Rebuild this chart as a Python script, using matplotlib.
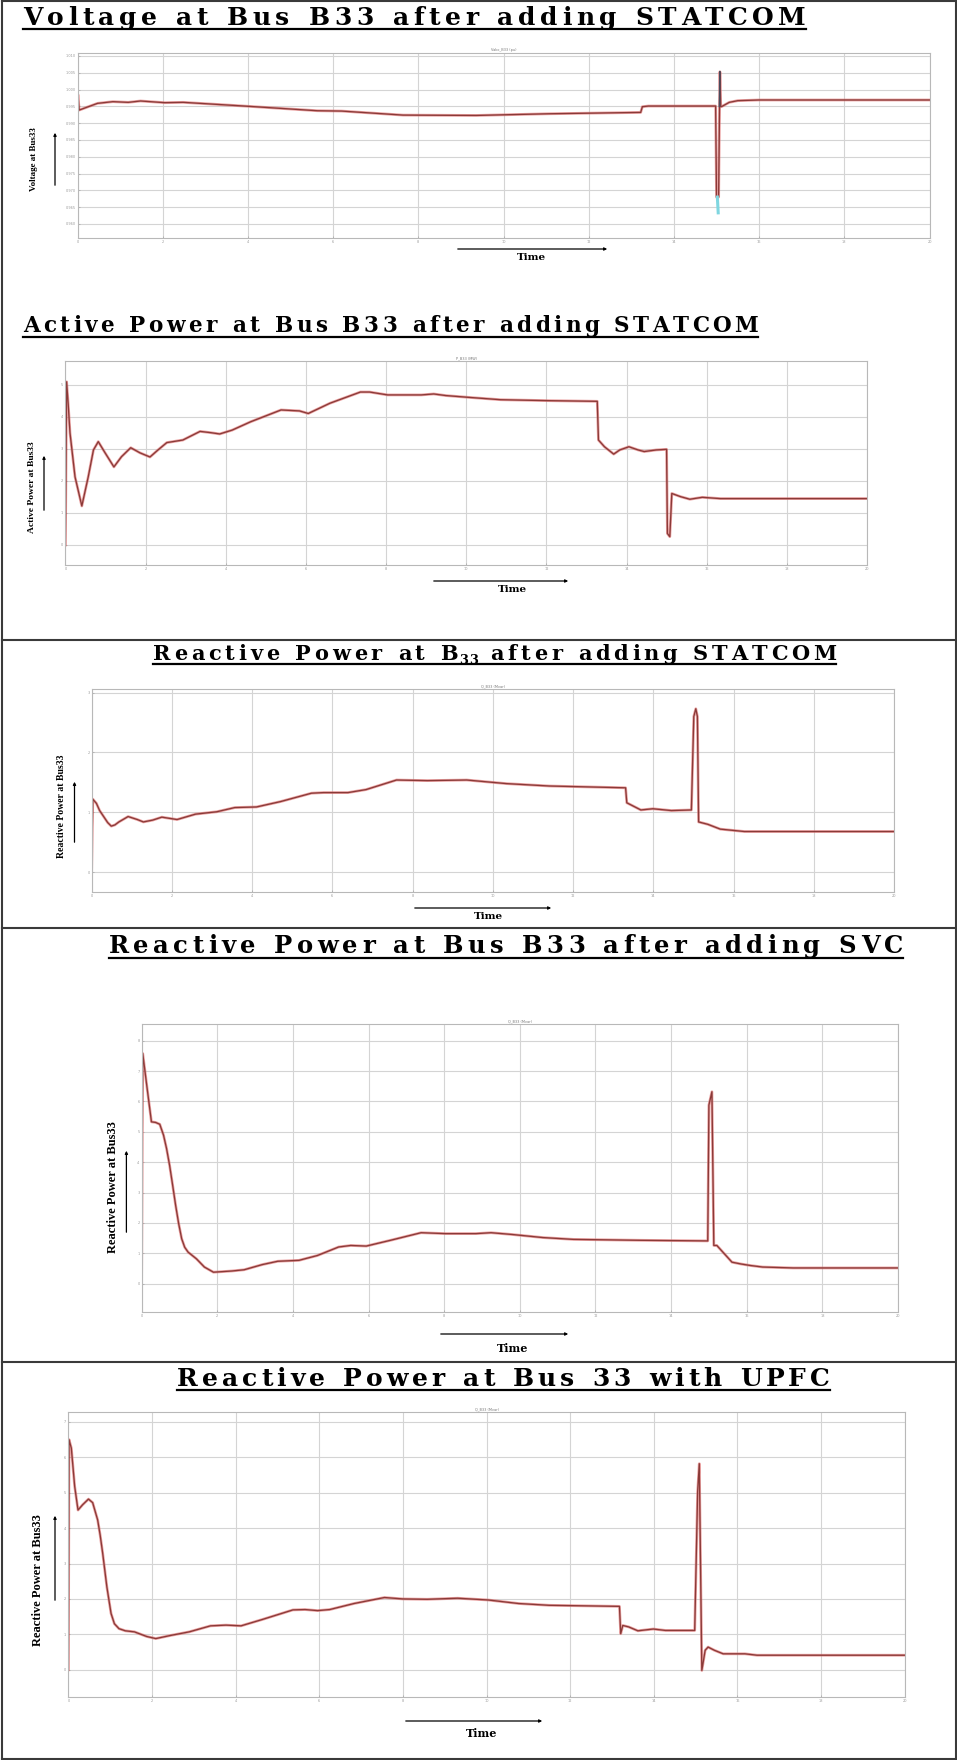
import matplotlib.pyplot as plt
from matplotlib.lines import Line2D
from matplotlib.patches import FancyArrowPatch

SERIF = ['Liberation Serif', 'DejaVu Serif']
WIDE = ['DejaVu Serif']
W, H = 957, 1760

# time axis (s), same for all panels
x_ticks = [0, 2, 4, 6, 8, 10, 12, 14, 16, 18, 20]

# Voltage at B33 (pu)
volt_t = [0, 0.01, 0.04, 0.47, 0.83, 1.19, 1.48, 2.05, 2.48, 3.91, 5.63, 6.2, 7.64, 9.36,
          11.07, 13.22, 13.26, 13.4, 14.98, 15.0, 15.05, 15.08, 15.1, 15.13, 15.3, 15.5, 16.0, 20]
volt_v = [0.9939, 0.9985, 0.9939, 0.9959, 0.9964, 0.9962, 0.9966, 0.9961, 0.9962, 0.9951, 0.9937,
          0.9936, 0.9924, 0.9923, 0.9928, 0.9932, 0.9949, 0.9951, 0.9951, 0.9680, 0.9680, 1.0053,
          0.9949, 0.9950, 0.9962, 0.9967, 0.9969, 0.9969]
volt_cyan_t = [15.02, 15.04]
volt_cyan_v = [0.9680, 0.9633]
volt_peak_t = [15.07, 15.08]
volt_peak_v = [0.9950, 1.0053]
volt_ticks = [0.96, 0.965, 0.97, 0.975, 0.98, 0.985, 0.99, 0.995, 1.0, 1.005, 1.01]

# Active power at B33
p_t = [0, 0.03, 0.07, 0.115, 0.24, 0.41, 0.57, 0.70, 0.82, 0.99, 1.21, 1.40, 1.63, 1.86, 2.11,
       2.31, 2.53, 2.93, 3.36, 3.63, 3.85, 4.16, 4.62, 5.38, 5.84, 6.06, 6.6, 7.36, 7.59, 8.04,
       8.88, 9.19, 9.49, 10.1, 10.86, 12.08, 13.27, 13.3, 13.45, 13.68, 13.83, 14.06, 14.29,
       14.44, 14.74, 15.0, 15.02, 15.08, 15.13, 15.35, 15.58, 15.89, 16.34, 20]
p_v = [0, 5.1, 4.4, 3.5, 2.13, 1.22, 2.13, 2.97, 3.23, 2.88, 2.44, 2.76, 3.04, 2.88, 2.75,
       2.97, 3.2, 3.28, 3.55, 3.51, 3.47, 3.59, 3.85, 4.22, 4.19, 4.11, 4.43, 4.78, 4.78, 4.69,
       4.69, 4.72, 4.67, 4.61, 4.54, 4.51, 4.49, 3.28, 3.07, 2.84, 2.97, 3.07, 2.97,
       2.92, 2.97, 2.99, 0.36, 0.26, 1.61, 1.51, 1.43, 1.49, 1.45, 1.45]
p_ticks = [0, 1, 2, 3, 4, 5]

# Reactive power at B33, STATCOM
qs_t = [0, 0.03, 0.12, 0.20, 0.30, 0.40, 0.49, 0.58, 0.68, 0.91, 1.14, 1.29, 1.52, 1.75, 2.13,
        2.59, 3.12, 3.57, 4.11, 4.71, 5.48, 5.78, 6.39, 6.84, 7.60, 8.37, 9.35, 10.34, 11.41,
        13.31, 13.34, 13.69, 13.99, 14.45, 14.95, 15.01, 15.06, 15.10, 15.13, 15.36, 15.67,
        16.27, 20]
qs_v = [0, 1.22, 1.15, 1.03, 0.93, 0.83, 0.77, 0.79, 0.84, 0.93, 0.88, 0.84, 0.87, 0.92, 0.88,
        0.97, 1.01, 1.08, 1.09, 1.18, 1.32, 1.33, 1.33, 1.38, 1.54, 1.53, 1.54, 1.48, 1.44,
        1.41, 1.16, 1.04, 1.06, 1.03, 1.04, 2.6, 2.73, 2.6, 0.84, 0.80, 0.72,
        0.68, 0.68]
qs_ticks = [0, 1, 2, 3]

# Reactive power at B33, SVC
qv_t = [0, 0.03, 0.13, 0.26, 0.37, 0.48, 0.58, 0.66, 0.74, 0.82, 0.90, 0.98, 1.06, 1.14, 1.23,
        1.45, 1.66, 1.90, 2.39, 2.71, 3.19, 3.6, 4.16, 4.65, 5.21, 5.53, 5.94, 6.58, 7.39, 8.03,
        8.84, 9.24, 9.81, 10.61, 11.42, 13.19, 14.97, 15.0, 15.08, 15.13, 15.21, 15.37, 15.61,
        15.85, 16.1, 16.42, 17.23, 20]
qv_v = [0.11, 7.58, 6.59, 5.33, 5.31, 5.25, 4.89, 4.45, 3.90, 3.25, 2.58, 1.98, 1.48, 1.20, 1.04,
        0.82, 0.55, 0.38, 0.42, 0.46, 0.63, 0.74, 0.77, 0.93, 1.21, 1.26, 1.24, 1.43, 1.68, 1.65,
        1.65, 1.68, 1.62, 1.52, 1.46, 1.43, 1.41, 5.88, 6.32, 1.26, 1.26, 1.04, 0.71,
        0.65, 0.60, 0.55, 0.52, 0.52]
qv_ticks = [0, 1, 2, 3, 4, 5, 6, 7, 8]

# Reactive power at B33, UPFC
qu_t = [0, 0.015, 0.07, 0.15, 0.23, 0.34, 0.48, 0.58, 0.70, 0.76, 0.82, 0.92, 1.02, 1.10, 1.21,
        1.36, 1.58, 1.87, 2.09, 2.45, 2.89, 3.40, 3.77, 4.13, 4.64, 5.37, 5.66, 5.96, 6.25, 6.83,
        7.56, 8.0, 8.58, 9.31, 10.04, 10.77, 11.5, 13.18, 13.21, 13.26, 13.4, 13.62, 13.99,
        14.28, 14.98, 15.05, 15.09, 15.15, 15.23, 15.30, 15.45, 15.66, 16.18, 16.47, 20]
qu_v = [0, 6.5, 6.26, 5.18, 4.51, 4.66, 4.82, 4.72, 4.23, 3.80, 3.29, 2.34, 1.59, 1.30, 1.16,
        1.10, 1.07, 0.94, 0.88, 0.97, 1.07, 1.24, 1.26, 1.24, 1.42, 1.69, 1.70, 1.67, 1.70, 1.87,
        2.04, 2.0, 1.99, 2.02, 1.97, 1.87, 1.82, 1.79, 1.02, 1.25, 1.21, 1.10, 1.15,
        1.11, 1.11, 5.03, 5.82, -0.02, 0.55, 0.64, 0.55, 0.45, 0.45, 0.41, 0.41]
qu_ticks = [0, 1, 2, 3, 4, 5, 6, 7]

fig = plt.figure(figsize=(9.57, 17.6), dpi=100)
renderer = fig.canvas.get_renderer()


def fx(x):
    return x / W


def fy(y):
    return 1 - y / H


def make_ax(left, top, right, bottom, ylim, yticks, small_title):
    ax = fig.add_axes([fx(left), fy(bottom), (right - left) / W, (bottom - top) / H])
    ax.set_xlim(0, 20)
    ax.set_ylim(*ylim)
    ax.set_xticks(x_ticks)
    ax.set_yticks(yticks)
    ax.tick_params(labelsize=2.5, colors='#999999', length=1.5, width=0.4, pad=1.5, direction='in')
    ax.grid(True, color='#d4d4d4', lw=0.8)
    for s in ax.spines.values():
        s.set_color('#b8b8b8')
        s.set_linewidth(0.8)
    ax.set_title(small_title, fontsize=2.5, color='#777777', pad=1.5)
    return ax


def draw_curve(ax, t, v):
    ax.plot(t, v, color='#e07070', lw=2.0, alpha=0.65, solid_joinstyle='round')
    ax.plot(t, v, color='#8a3a38', lw=0.95, solid_joinstyle='round')


def spaced_title(parts, left, right, base, size, uline):
    # lay out one character at a time so the title spans the same width as the picture
    chars = [(ch, sc, dy) for s, sc, dy in parts for ch in s]
    widths = []
    for ch, sc, dy in chars:
        t = fig.text(0, 0, 'n' if ch == ' ' else ch, fontsize=size * sc,
                     fontweight='bold', family=WIDE)
        w = t.get_window_extent(renderer).width
        t.remove()
        widths.append(w * 0.55 if ch == ' ' else w)
    weights = [1.0 if (a[1] == 1 and b[1] == 1) else 0.2 for a, b in zip(chars[:-1], chars[1:])]
    extra = (right - left - sum(widths)) / sum(weights)
    x = left
    for i, ((ch, sc, dy), w) in enumerate(zip(chars, widths)):
        if ch != ' ':
            fig.text(fx(x), fy(base + dy), ch, fontsize=size * sc, fontweight='bold',
                     family=WIDE, ha='left', va='baseline')
        if i < len(weights):
            x += w + extra * weights[i]
    fig.add_artist(Line2D([fx(left), fx(right)], [fy(uline), fy(uline)],
                          transform=fig.transFigure, color='black', lw=1.6))


def labels(ylab, ylx, lly, yfs, arr_x, arr_y0, arr_y1, tx, ty, tfs, tarr_y, tarr_x0, tarr_x1):
    fig.text(fx(ylx), fy(lly), ylab, rotation=90, fontsize=yfs, fontweight='bold',
             family=SERIF, ha='center', va='center')
    fig.add_artist(FancyArrowPatch((fx(arr_x), fy(arr_y0)), (fx(arr_x), fy(arr_y1)),
                                   transform=fig.transFigure, arrowstyle='-|>',
                                   mutation_scale=4, lw=0.9, color='black'))
    fig.text(fx(tx), fy(ty), 'Time', fontsize=tfs, fontweight='bold', family=WIDE,
             ha='center', va='center')
    fig.add_artist(FancyArrowPatch((fx(tarr_x0), fy(tarr_y)), (fx(tarr_x1), fy(tarr_y)),
                                   transform=fig.transFigure, arrowstyle='-|>',
                                   mutation_scale=4, lw=0.9, color='black'))


# panel 1: voltage
ax1 = make_ax(77.5, 53.3, 929.5, 237.7, (0.9559, 1.0108), volt_ticks, 'Vabc_B33 (pu)')
draw_curve(ax1, volt_t, volt_v)
ax1.plot(volt_cyan_t, volt_cyan_v, color='#7fd6e0', lw=2.2)
ax1.plot(volt_peak_t, volt_peak_v, color='#4a4a5c', lw=1.2)
spaced_title([('Voltage at Bus B33 after adding STATCOM', 1, 0)], 23, 806, 25, 18, 29.5)
labels('Voltage at Bus33', 33.6, 159, 6.5, 55, 188, 130, 531, 257, 7.5, 249, 455, 610)

# panel 2: active power
ax2 = make_ax(65.4, 361, 867, 565, (-0.625, 5.75), p_ticks, 'P_B33 (MW)')
draw_curve(ax2, p_t, p_v)
spaced_title([('Active Power at Bus B33 after adding STATCOM', 1, 0)], 23, 758, 332, 15.5, 337)
labels('Active Power at Bus33', 32, 487, 6.8, 44, 513, 453, 512, 589, 7.5, 581, 431, 571)

# panel 3: reactive power, STATCOM
ax3 = make_ax(91.6, 689, 894, 892, (-0.33, 3.06), qs_ticks, 'Q_B33 (Mvar)')
draw_curve(ax3, qs_t, qs_v)
spaced_title([('Reactive Power at B', 1, 0), ('33', 0.62, 3.5), (' after adding STATCOM', 1, 0)],
             153, 836, 660, 15, 664)
labels('Reactive Power at Bus33', 61, 806, 7, 74.5, 845, 779, 488, 916, 7.5, 908, 412, 554)

# panel 4: reactive power, SVC
ax4 = make_ax(141.6, 1024, 898, 1312, (-0.93, 8.55), qv_ticks, 'Q_B33 (Mvar)')
draw_curve(ax4, qv_t, qv_v)
spaced_title([('Reactive Power at Bus B33 after adding SVC', 1, 0)], 109, 903, 953, 17.5, 957.5)
labels('Reactive Power at Bus33', 113, 1187, 9, 126.4, 1235, 1148, 513, 1348, 8, 1334, 438, 571)

# panel 5: reactive power, UPFC
ax5 = make_ax(68.4, 1412, 904.6, 1697, (-0.77, 7.28), qu_ticks, 'Q_B33 (Mvar)')
draw_curve(ax5, qu_t, qu_v)
spaced_title([('Reactive Power at Bus 33 with UPFC', 1, 0)], 177, 830, 1386, 18, 1390)
labels('Reactive Power at Bus33', 38.5, 1580, 9, 55, 1603, 1513, 482, 1733, 8, 1721, 403, 545)

# table borders
for x0, y0, x1, y1 in [(1.5, 1.5, 955.5, 1.5), (1.5, 1758.5, 955.5, 1758.5),
                       (1.5, 1.5, 1.5, 1758.5), (955.5, 1.5, 955.5, 1758.5),
                       (1.5, 640, 955.5, 640), (1.5, 928, 955.5, 928), (1.5, 1362, 955.5, 1362)]:
    fig.add_artist(Line2D([fx(x0), fx(x1)], [fy(y0), fy(y1)], transform=fig.transFigure,
                          color='#3a3a3a', lw=1.5))

fig.savefig('out.png', dpi=100)
